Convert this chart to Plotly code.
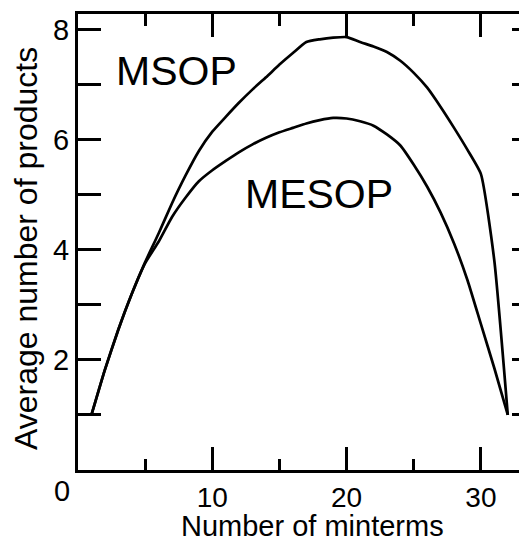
import plotly.graph_objects as go

minterms = list(range(1, 33))
msop = [1.0, 1.82, 2.55, 3.2, 3.78, 4.3, 4.85, 5.35, 5.8, 6.15, 6.42, 6.68, 6.92, 7.14,
        7.37, 7.58, 7.78, 7.83, 7.86, 7.87, 7.78, 7.7, 7.6, 7.44, 7.22, 6.95, 6.6,
        6.22, 5.82, 5.38, 3.8, 1.0]
mesop = [1.0, 1.82, 2.55, 3.2, 3.76, 4.15, 4.6, 4.95, 5.25, 5.45, 5.62, 5.78, 5.92, 6.04,
         6.14, 6.22, 6.3, 6.36, 6.4, 6.39, 6.34, 6.26, 6.1, 5.9, 5.55, 5.15, 4.68,
         4.12, 3.45, 2.65, 1.85, 1.0]

x_tickvals = [10, 20, 30]
x_ticktext = ["10", "20", "30"]
y_tickvals = [1, 2, 3, 4, 5, 6, 7, 8]
y_ticktext = ["", "2", "", "4", "", "6", "", "8"]

XR = [0, 33.43]
YR = [0, 8.29]
FONT = "Liberation Sans, Arial, Helvetica, sans-serif"

fig = go.Figure()
fig.add_trace(go.Scatter(x=minterms, y=msop, mode="lines",
                         line=dict(color="black", width=2.7, shape="spline", smoothing=0.5),
                         showlegend=False))
fig.add_trace(go.Scatter(x=minterms, y=mesop, mode="lines",
                         line=dict(color="black", width=2.7, shape="spline", smoothing=0.5),
                         showlegend=False))
fig.add_trace(go.Scatter(x=[], y=[], xaxis="x2", yaxis="y2", showlegend=False,
                         hoverinfo="skip"))

fig.update_layout(
    template="none",
    width=527, height=545,
    margin=dict(l=70, r=8, t=6, b=83, autoexpand=False),
    paper_bgcolor="white", plot_bgcolor="white",
    font=dict(family=FONT, color="black", size=29),
    xaxis=dict(range=XR, tickmode="array", tickvals=x_tickvals, ticktext=x_ticktext,
               ticks="inside", ticklen=23, tickwidth=3, tickcolor="black",
               minor=dict(tick0=0, dtick=5, ticks="inside", ticklen=11, tickwidth=3,
                          tickcolor="black"),
               showline=True, linewidth=3, linecolor="black", automargin=False,
               showgrid=False, zeroline=False, tickfont=dict(size=28)),
    yaxis=dict(range=YR, tickmode="array", tickvals=y_tickvals, ticktext=y_ticktext,
               ticks="inside", ticklen=23, tickwidth=3, tickcolor="black",
               showline=True, linewidth=3, linecolor="black", automargin=False,
               showgrid=False, zeroline=False, tickfont=dict(size=29)),
    xaxis2=dict(range=XR, overlaying="x", side="top", anchor="y",
                tickmode="array", tickvals=x_tickvals,
                ticks="inside", ticklen=23, tickwidth=3, tickcolor="black",
                minor=dict(tick0=0, dtick=5, ticks="inside", ticklen=12, tickwidth=3,
                           tickcolor="black"),
                showticklabels=False, showline=True, linewidth=3, linecolor="black",
                automargin=False, showgrid=False, zeroline=False),
    yaxis2=dict(range=YR, overlaying="y", side="right", anchor="x",
                tickmode="array", tickvals=y_tickvals,
                ticks="inside", ticklen=15, tickwidth=3, tickcolor="black",
                showticklabels=False, showline=False, automargin=False,
                showgrid=False, zeroline=False),
    annotations=[
        dict(text="MSOP", x=7.33, y=7.25, xref="x", yref="y", showarrow=False,
             font=dict(size=41), xanchor="center", yanchor="middle"),
        dict(text="MESOP", x=17.94, y=5.02, xref="x", yref="y", showarrow=False,
             font=dict(size=41), xanchor="center", yanchor="middle"),
        dict(text="0", x=-0.0356, y=-0.046, xref="paper", yref="paper", showarrow=False,
             font=dict(size=29), xanchor="center", yanchor="middle"),
        dict(text="Number of minterms", x=0.523, y=-0.1228, xref="paper", yref="paper",
             showarrow=False, font=dict(size=29), xanchor="center", yanchor="middle",
             borderpad=0),
        dict(text="Average number of products", x=-0.1158, y=0.4846, xref="paper",
             yref="paper", showarrow=False, font=dict(size=32), textangle=-90,
             xanchor="center", yanchor="middle"),
    ],
)

fig.write_html("out.html")
